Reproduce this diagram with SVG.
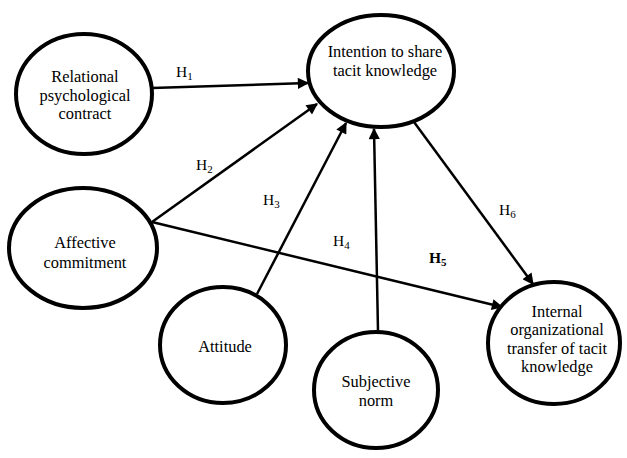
<svg xmlns="http://www.w3.org/2000/svg" width="627" height="458" viewBox="0 0 627 458">
<style>
.n{fill:#fff;stroke:#000;stroke-width:4}
.t{font-family:"Liberation Serif","Times New Roman",serif;font-size:16.4px;fill:#000;text-anchor:middle}
.l{font-family:"Liberation Serif","Times New Roman",serif;font-size:15.5px;fill:#000}
.s{font-size:11px}
.e{stroke:#000;stroke-width:2.5;fill:none;marker-end:url(#a)}
</style>
<defs>
<marker id="a" viewBox="0 0 10 10" refX="9" refY="5" markerWidth="5" markerHeight="4.5" orient="auto" markerUnits="strokeWidth">
<path d="M0,0 L10,5 L0,10 z" fill="#000"/>
</marker>
</defs>
<g id="connectors">
<line class="e" x1="152" y1="88" x2="308" y2="83"/>
<line class="e" x1="152" y1="222" x2="317" y2="104"/>
<line class="e" x1="257" y1="294" x2="346" y2="123"/>
<line class="e" x1="378" y1="331" x2="374" y2="129"/>
<line class="e" x1="152" y1="222" x2="502" y2="307"/>
<line class="e" x1="414" y1="122" x2="533" y2="284"/>
</g>
<g id="labels">
<text class="l" x="176" y="77">H<tspan class="s" dy="3">1</tspan></text>
<text class="l" x="196" y="170">H<tspan class="s" dy="3">2</tspan></text>
<text class="l" x="263" y="205">H<tspan class="s" dy="3">3</tspan></text>
<text class="l" x="333" y="246">H<tspan class="s" dy="3">4</tspan></text>
<text class="l" x="429" y="263" font-weight="bold">H<tspan class="s" dy="3">5</tspan></text>
<text class="l" x="499" y="215">H<tspan class="s" dy="3">6</tspan></text>
</g>
<g id="relational">
<ellipse class="n" cx="84" cy="94" rx="68" ry="60"/>
<text class="t" x="85" y="82">Relational</text>
<text class="t" x="85" y="101">psychological</text>
<text class="t" x="85" y="119">contract</text>
</g>
<g id="intention">
<ellipse class="n" cx="381" cy="71" rx="73" ry="56"/>
<text class="t" x="385" y="57">Intention to share</text>
<text class="t" x="385" y="76">tacit knowledge</text>
</g>
<g id="affective">
<ellipse class="n" cx="83" cy="248" rx="74" ry="60"/>
<text class="t" x="85" y="248">Affective</text>
<text class="t" x="85" y="268">commitment</text>
</g>
<g id="attitude">
<ellipse class="n" cx="223" cy="345" rx="63" ry="58"/>
<text class="t" x="225" y="352">Attitude</text>
</g>
<g id="subjective">
<ellipse class="n" cx="376" cy="390" rx="62" ry="58"/>
<text class="t" x="376" y="387">Subjective</text>
<text class="t" x="376" y="406">norm</text>
</g>
<g id="internal">
<ellipse class="n" cx="554" cy="343" rx="66" ry="61"/>
<text class="t" x="557" y="317">Internal</text>
<text class="t" x="557" y="335">organizational</text>
<text class="t" x="557" y="354">transfer of tacit</text>
<text class="t" x="557" y="372">knowledge</text>
</g>
</svg>
